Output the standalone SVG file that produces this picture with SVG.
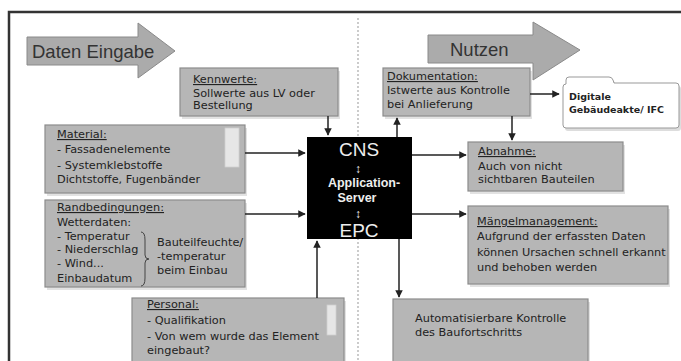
<svg xmlns="http://www.w3.org/2000/svg" width="681" height="361" viewBox="0 0 681 361">
<defs>
<marker id="ah" viewBox="0 0 10 10" refX="9" refY="5" markerWidth="5" markerHeight="5" orient="auto"><path d="M0,0 L10,5 L0,10 z" fill="#222"/></marker>
<style>
.box{fill:#b6b6b6;stroke:#8c8c8c;stroke-width:1.2}
.sh{fill:#e2e2e2}
.t{font-family:"DejaVu Sans",Verdana,sans-serif;font-size:11.3px;fill:#222}
.ti{text-decoration:underline}
.big{font-family:"Liberation Sans",Arial,sans-serif;font-size:18.5px;fill:#333}
.w{font-family:"Liberation Sans",Arial,sans-serif;fill:#eee;text-anchor:middle}
.c{stroke:#222;stroke-width:1.5;fill:none;marker-end:url(#ah)}
.arr{fill:#ababab;stroke:#8a8a8a;stroke-width:1}
.sb{fill:#e6e6e6;stroke:#cfcfcf;stroke-width:0.8}
</style>
</defs>
<rect width="681" height="361" fill="#fff"/>
<path d="M9,361 V12 H681" fill="none" stroke="#333" stroke-width="2.5"/>
<line x1="358" y1="18" x2="358" y2="361" stroke="#aaa" stroke-width="1.2" stroke-dasharray="2,2"/>

<g id="daten-eingabe">
<path class="arr" d="M27,37 H138 V23 L175,51 L138,78 V65 H27 z"/>
<text class="big" x="32" y="58">Daten Eingabe</text>
</g>
<g id="nutzen">
<path class="arr" d="M428,35 H533 V22 L580,50 L533,80 V63 H428 z"/>
<text class="big" x="450" y="56">Nutzen</text>
</g>

<g id="kennwerte">
<rect class="sh" x="182" y="71" width="158" height="48"/>
<rect class="box" x="180" y="68" width="158" height="48"/>
<text class="t" x="193" y="83"><tspan class="ti">Kennwerte:</tspan><tspan x="193" dy="14">Sollwerte aus LV oder</tspan><tspan x="193" dy="12">Bestellung</tspan></text>
</g>

<g id="material">
<rect class="sh" x="47" y="128" width="200" height="68"/>
<rect class="box" x="45" y="125" width="200" height="68"/>
<rect class="sb" x="225" y="128" width="14" height="39"/>
<text class="t" x="57" y="138"><tspan class="ti">Material:</tspan><tspan x="57" dy="15">- Fassadenelemente</tspan><tspan x="57" dy="16">- Systemklebstoffe</tspan><tspan x="57" dy="14">Dichtstoffe, Fugenbänder</tspan></text>
</g>

<g id="randbedingungen">
<rect class="sh" x="47" y="203" width="200" height="87"/>
<rect class="box" x="45" y="200" width="200" height="87"/>
<text class="t" x="57" y="211"><tspan class="ti">Randbedingungen:</tspan><tspan x="57" dy="15">Wetterdaten:</tspan><tspan x="57" dy="14">- Temperatur</tspan><tspan x="57" dy="13">- Niederschlag</tspan><tspan x="57" dy="14">- Wind...</tspan><tspan x="57" dy="15">Einbaudatum</tspan></text>
<path d="M141,232 Q145,232 145,240 V255 Q145,259 149,259 Q145,259 145,263 V278 Q145,286 141,286" fill="none" stroke="#444" stroke-width="1"/>
<text class="t" x="157" y="246"><tspan>Bauteilfeuchte/</tspan><tspan x="157" dy="14">-temperatur</tspan><tspan x="157" dy="14">beim Einbau</tspan></text>
</g>

<g id="personal">
<rect class="sh" x="134" y="301" width="212" height="62"/>
<rect class="box" x="132" y="298" width="212" height="65"/>
<rect class="sb" x="327" y="305" width="9" height="30"/>
<text class="t" x="147" y="308"><tspan class="ti">Personal:</tspan><tspan x="147" dy="16">- Qualifikation</tspan><tspan x="147" dy="16">- Von wem wurde das Element</tspan><tspan x="147" dy="14">eingebaut?</tspan></text>
</g>

<g id="server">
<rect x="307" y="137" width="105" height="102" fill="#000"/>
<text class="w" x="359" y="156" font-size="19">CNS</text>
<text class="w" x="358" y="173" font-size="12" font-weight="bold">↕</text>
<text class="w" x="364" y="187" font-size="12.5" font-weight="bold">Application-</text>
<text class="w" x="357" y="202" font-size="12.5" font-weight="bold">Server</text>
<text class="w" x="358" y="218" font-size="12" font-weight="bold">↕</text>
<text class="w" x="359" y="237" font-size="19">EPC</text>
</g>

<g id="dokumentation">
<rect class="sh" x="385" y="71" width="147" height="48"/>
<rect class="box" x="383" y="68" width="147" height="48"/>
<text class="t" x="387" y="80"><tspan class="ti">Dokumentation:</tspan><tspan x="387" dy="14">Istwerte aus Kontrolle</tspan><tspan x="387" dy="14">bei Anlieferung</tspan></text>
</g>

<g id="gebaeudeakte">
<path d="M566,84 V80 Q566,77 569,77 H609 Q612,77 613,80 L614,83 H676 Q679,83 679,86 V125 Q679,128 676,128 H566 Q563,128 563,125 V87 Q563,84 566,84 z" fill="#ddd" transform="translate(2,3)"/>
<path d="M566,84 V80 Q566,77 569,77 H609 Q612,77 613,80 L614,83 H676 Q679,83 679,86 V125 Q679,128 676,128 H566 Q563,128 563,125 V87 Q563,84 566,84 z" fill="#fff" stroke="#999" stroke-width="1"/>
<text class="t" x="569" y="100" style="font-size:9.5px;font-weight:bold"><tspan>Digitale</tspan><tspan x="569" dy="13">Gebäudeakte/ IFC</tspan></text>
</g>

<g id="abnahme">
<rect class="sh" x="470" y="145" width="155" height="49"/>
<rect class="box" x="468" y="142" width="155" height="49"/>
<text class="t" x="478" y="155"><tspan class="ti">Abnahme:</tspan><tspan x="478" dy="15">Auch von nicht</tspan><tspan x="478" dy="13">sichtbaren Bauteilen</tspan></text>
</g>

<g id="maengelmanagement">
<rect class="sh" x="470" y="209" width="200" height="78"/>
<rect class="box" x="468" y="206" width="200" height="78"/>
<text class="t" x="477" y="225"><tspan class="ti">Mängelmanagement:</tspan><tspan x="477" dy="15">Aufgrund der erfassten Daten</tspan><tspan x="477" dy="16">können Ursachen schnell erkannt</tspan><tspan x="477" dy="15">und behoben werden</tspan></text>
</g>

<g id="baufortschritt">
<rect class="sh" x="395" y="302" width="195" height="62"/>
<rect class="box" x="393" y="299" width="195" height="64"/>
<text class="t" x="415" y="322"><tspan>Automatisierbare Kontrolle</tspan><tspan x="415" dy="14">des Baufortschritts</tspan></text>
</g>

<g id="connectors">
<line class="c" x1="328" y1="116" x2="328" y2="135"/>
<line class="c" x1="245" y1="153" x2="305" y2="153"/>
<line class="c" x1="245" y1="214" x2="305" y2="214"/>
<line class="c" x1="317" y1="298" x2="317" y2="241"/>
<line class="c" x1="397" y1="137" x2="397" y2="118"/>
<line class="c" x1="530" y1="94" x2="559" y2="94"/>
<line class="c" x1="512" y1="116" x2="512" y2="140"/>
<line class="c" x1="412" y1="155" x2="466" y2="155"/>
<line class="c" x1="412" y1="214" x2="466" y2="214"/>
<line class="c" x1="399" y1="239" x2="399" y2="297"/>
</g>
</svg>
